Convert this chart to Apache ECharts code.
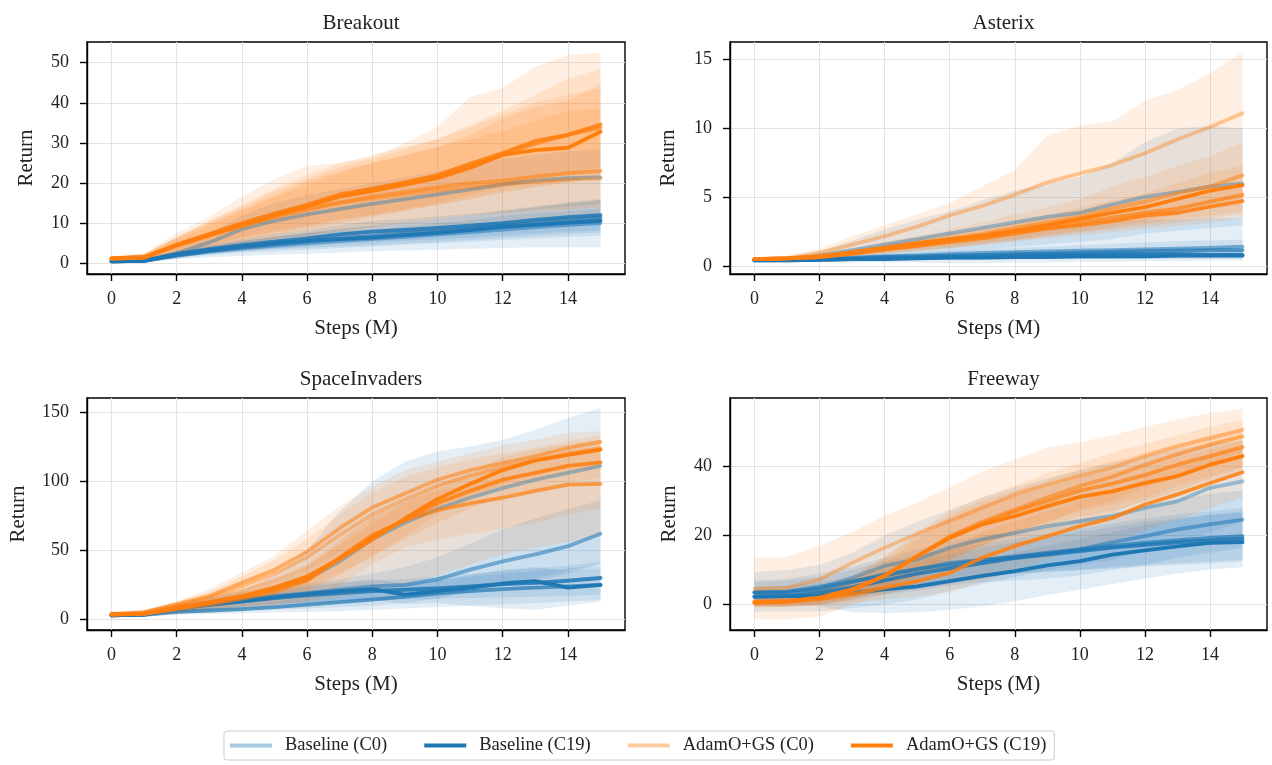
<!DOCTYPE html>
<html>
<head>
<meta charset="utf-8">
<script src="https://cdn.jsdelivr.net/npm/echarts@6/dist/echarts.min.js"></script>
<style>
html,body{margin:0;padding:0;background:#fff;}
#chart{width:1272px;height:765px;}
</style>
</head>
<body>
<div id="chart"></div>
<script>
// ---------------- DATA ----------------
const steps = [0,1,2,3,4,5,6,7,8,9,10,11,12,13,14,15];
const stepTicks = [0,2,4,6,8,10,12,14];
const gameTitles = ['Breakout','Asterix','SpaceInvaders','Freeway'];
const legendNames = ['Baseline (C0)','Baseline (C19)','AdamO+GS (C0)','AdamO+GS (C19)'];
const breakoutYTicks = [0,10,20,30,40,50];
const asterixYTicks = [0,5,10,15];
const spaceInvadersYTicks = [0,50,100,150];
const freewayYTicks = [0,20,40];

// each array: one row per setting, from C0 (lightest) to C19 (darkest)
const breakoutBaseMean = [
 [0.7,0.8,2.5,5.2,8.5,10.6,12.2,13.5,14.8,16.0,17.2,18.4,19.7,20.6,21.2,21.4],
 [0.5,0.6,1.9,2.9,3.7,4.4,5.0,5.6,6.1,6.6,7.2,7.8,8.4,9.0,9.6,10.0],
 [0.5,0.6,2.0,3.1,4.0,4.8,5.5,6.2,6.8,7.4,8.0,8.7,9.4,10.0,10.8,11.4],
 [0.5,0.6,2.3,3.5,4.5,5.4,6.2,7.2,7.9,8.3,8.8,9.4,10.0,10.8,11.5,12.0],
 [0.5,0.6,2.2,3.3,4.2,5.0,5.6,6.0,6.4,7.0,7.6,8.3,9.1,9.6,10.1,10.6]
];
const breakoutBaseLo = [
 [0.3,0.4,1.2,2.5,4.5,6.0,7.0,8.0,9.0,10.0,11.0,12.0,12.8,13.5,14.2,14.8],
 [0.3,0.4,1.0,1.5,1.8,2.1,2.4,2.7,3.0,3.2,3.4,3.6,3.8,4.0,4.0,4.0],
 [0.3,0.4,1.2,2.0,2.6,3.0,3.4,3.8,4.2,4.6,5.0,5.4,5.8,6.2,6.6,6.9],
 [0.3,0.4,1.6,2.4,3.0,3.6,4.2,4.8,5.2,5.6,6.0,6.4,6.9,7.4,7.9,8.2],
 [0.3,0.4,1.5,2.3,3.0,3.5,3.9,4.2,4.5,4.9,5.3,5.8,6.3,6.8,7.3,7.6]
];
const breakoutBaseHi = [
 [1.2,1.4,3.8,7.5,12.0,15.0,17.0,18.5,20.0,21.5,23.0,24.5,26.0,27.0,28.0,28.5],
 [0.8,0.9,2.9,4.3,5.6,6.7,7.6,8.5,9.2,10.0,11.0,12.0,13.0,14.0,15.2,16.0],
 [0.8,0.9,2.9,4.3,5.5,6.6,7.6,8.6,9.4,10.2,11.0,12.0,13.0,13.8,14.8,15.8],
 [0.8,0.9,3.1,4.6,6.0,7.3,8.3,9.5,10.6,11.0,11.7,12.4,13.2,14.2,15.0,15.8],
 [0.8,0.9,3.0,4.3,5.5,6.5,7.4,8.0,8.5,9.2,10.0,10.8,11.8,12.5,13.0,13.6]
];
const breakoutAdamMean = [
 [1.1,1.4,4.3,6.8,9.2,11.5,13.4,15.0,16.2,17.2,18.2,19.0,19.7,20.3,20.8,21.2],
 [1.1,1.4,4.4,7.0,9.4,11.6,13.5,15.2,16.6,17.8,19.0,20.0,20.6,21.6,22.5,23.0],
 [1.2,1.5,4.6,7.2,9.8,12.2,14.5,16.8,18.4,20.0,21.8,24.2,27.2,29.8,32.0,33.8],
 [1.2,1.5,4.6,7.3,10.0,12.4,14.6,17.2,18.6,20.2,22.0,24.8,27.5,30.5,32.0,34.6],
 [1.2,1.5,4.5,7.0,9.5,11.9,14.2,16.6,18.0,19.6,21.2,23.8,27.0,28.2,28.8,32.8]
];
const breakoutAdamLo = [
 [0.5,0.6,1.5,2.5,3.8,5.0,6.0,6.5,7.0,7.5,8.0,8.5,9.0,9.5,10.0,10.5],
 [0.6,0.7,1.8,3.0,4.5,6.0,7.0,8.0,9.0,10.0,11.0,12.0,12.5,13.0,13.5,14.0],
 [0.7,0.8,2.5,4.0,5.5,7.0,8.5,10.0,11.5,13.0,14.5,16.0,17.5,19.0,20.5,22.0],
 [0.8,0.9,2.8,4.5,6.5,8.0,9.5,11.0,12.0,13.5,15.0,17.0,19.0,21.0,22.0,24.0],
 [0.8,0.9,2.8,4.5,6.2,7.7,9.0,10.8,12.0,13.2,14.5,16.0,18.0,19.0,20.0,22.0]
];
const breakoutAdamHi = [
 [1.8,2.5,7.5,11.6,16.6,21.0,24.3,25.0,26.5,30.0,34.0,41.5,43.7,49.0,52.0,52.5],
 [1.6,2.2,6.5,10.0,13.5,17.0,20.5,23.0,25.0,27.0,29.0,31.0,33.0,35.5,38.0,38.5],
 [1.6,2.2,6.5,10.5,14.0,18.0,21.0,24.0,26.0,28.5,31.0,34.0,37.0,40.0,42.0,43.5],
 [1.7,2.3,6.5,10.5,14.5,18.5,22.0,25.0,27.0,29.0,31.0,34.5,38.0,42.0,46.0,48.5],
 [1.7,2.2,6.0,9.5,13.0,16.5,19.5,22.5,25.0,27.0,29.0,32.0,36.0,39.0,40.5,45.0]
];

const asterixBaseMean = [
 [0.5,0.55,0.8,1.2,1.6,2.0,2.4,2.8,3.2,3.6,3.9,4.5,5.05,5.4,5.8,6.0],
 [0.5,0.5,0.55,0.65,0.75,0.8,0.9,1.0,1.05,1.1,1.15,1.2,1.25,1.3,1.35,1.45],
 [0.5,0.5,0.55,0.6,0.7,0.75,0.8,0.85,0.9,0.95,1.0,1.05,1.1,1.15,1.2,1.2],
 [0.45,0.45,0.5,0.55,0.6,0.65,0.7,0.75,0.8,0.85,0.85,0.9,0.9,0.9,0.85,0.85],
 [0.45,0.45,0.5,0.55,0.55,0.6,0.65,0.65,0.7,0.7,0.75,0.75,0.75,0.8,0.8,0.8]
];
const asterixBaseLo = [
 [0.4,0.45,0.5,0.55,0.6,0.8,1.0,1.2,1.4,1.6,1.8,2.0,2.4,2.6,2.8,3.0],
 [0.4,0.4,0.35,0.3,0.3,0.3,0.25,0.25,0.3,0.3,0.35,0.35,0.4,0.4,0.45,0.45],
 [0.4,0.4,0.45,0.45,0.5,0.5,0.5,0.55,0.55,0.6,0.6,0.6,0.65,0.65,0.7,0.7],
 [0.4,0.4,0.4,0.45,0.45,0.5,0.5,0.5,0.55,0.55,0.55,0.6,0.6,0.6,0.6,0.6],
 [0.4,0.4,0.45,0.45,0.45,0.5,0.5,0.5,0.55,0.55,0.55,0.55,0.55,0.6,0.6,0.6]
];
const asterixBaseHi = [
 [0.6,0.7,1.1,1.9,2.7,3.4,4.0,4.8,5.5,6.0,6.5,7.5,9.0,10.0,10.2,10.0],
 [0.6,0.6,0.8,1.0,1.2,1.5,1.7,2.0,2.4,2.8,3.1,3.3,3.4,3.4,3.5,3.5],
 [0.6,0.6,0.7,0.8,0.95,1.05,1.15,1.25,1.35,1.45,1.55,1.65,1.75,1.85,1.9,1.95],
 [0.5,0.5,0.6,0.7,0.8,0.85,0.95,1.0,1.1,1.15,1.2,1.25,1.3,1.3,1.25,1.25],
 [0.5,0.5,0.6,0.65,0.7,0.75,0.8,0.85,0.9,0.95,1.0,1.0,1.05,1.1,1.1,1.1]
];
const asterixAdamMean = [
 [0.55,0.6,1.0,1.6,2.2,2.9,3.7,4.4,5.2,6.1,6.75,7.35,8.2,9.2,10.1,11.1],
 [0.55,0.6,0.7,1.0,1.3,1.6,1.95,2.35,2.8,3.2,3.6,4.2,4.7,5.3,5.8,6.6],
 [0.55,0.6,0.7,0.95,1.25,1.55,1.85,2.15,2.5,2.85,3.2,3.55,3.9,4.2,4.7,5.2],
 [0.55,0.6,0.7,0.95,1.25,1.5,1.8,2.05,2.4,2.75,3.0,3.3,3.7,3.9,4.35,4.75],
 [0.55,0.6,0.75,1.05,1.35,1.7,2.0,2.25,2.6,3.0,3.45,3.9,4.3,4.9,5.5,5.9]
];
const asterixAdamLo = [
 [0.45,0.45,0.6,0.8,1.1,1.5,2.0,2.5,3.0,3.4,3.8,4.2,4.8,5.4,6.0,6.6],
 [0.5,0.5,0.55,0.75,0.95,1.1,1.3,1.6,1.9,2.2,2.5,2.8,3.1,3.4,3.7,4.0],
 [0.5,0.5,0.55,0.75,0.95,1.2,1.4,1.65,1.9,2.2,2.45,2.7,2.95,3.2,3.5,3.8],
 [0.5,0.5,0.55,0.75,0.95,1.15,1.35,1.55,1.8,2.05,2.25,2.5,2.75,2.95,3.2,3.5],
 [0.5,0.5,0.6,0.85,1.05,1.3,1.55,1.75,2.0,2.3,2.65,3.0,3.3,3.75,4.2,4.5]
];
const asterixAdamHi = [
 [0.7,0.8,1.3,2.2,3.0,3.8,4.6,5.8,7.0,9.5,10.2,10.5,12.0,12.8,14.0,15.5],
 [0.6,0.7,0.9,1.3,1.8,2.2,2.7,3.2,3.8,4.3,4.9,5.8,6.5,7.3,8.0,9.0],
 [0.6,0.7,0.85,1.15,1.55,1.9,2.3,2.65,3.1,3.5,3.95,4.4,4.85,5.2,5.9,6.5],
 [0.6,0.7,0.85,1.15,1.55,1.85,2.25,2.55,3.0,3.45,3.75,4.1,4.65,4.85,5.5,6.0],
 [0.6,0.7,0.9,1.25,1.65,2.1,2.45,2.75,3.2,3.7,4.25,4.8,5.3,6.05,6.8,7.3]
];

const spaceInvadersBaseMean = [
 [3,4,8,12,16.5,22,29,42,58,70,80,88,95,101,106,111],
 [3,4,8.4,11.5,14.4,17,19,21.5,24,25,29,36,42,47,53,62],
 [3,3.3,5.5,6.5,7.5,9,10.8,12.5,14.4,16.5,18.8,20.5,22,23,24,25],
 [3,3.5,7.8,10.5,13,15.5,17.5,19,20.5,21.5,22.5,24,25.5,26.5,28,30],
 [3,3.5,8,10.8,13.5,16,18.5,20.5,22,18,20.5,23,26,27.7,23,25]
];
const spaceInvadersBaseLo = [
 [2,2.5,4,5,6,7,8,9,10,12,15,20,25,30,35,40],
 [2,2.5,5,7,9,11,12,13,14,15,17,20,24,28,33,40],
 [2,2.2,3.5,4,4.5,5,5.5,6,7,8,9,10,11,12,13,14],
 [2,2.5,5,7,9,10.5,12,13,14,14.5,15,15.5,16,16.5,17,18],
 [2,2.5,5.5,7.5,9.5,11,12.5,13.5,14.5,11,12,10,8,7,10,13]
];
const spaceInvadersBaseHi = [
 [4,5.5,10,15,21,32,50,78,100,114,121.6,125,130,137,145.6,152.9],
 [4,5.5,11,16,20,23,26,29,33,38,45,55,65,73,80,86],
 [4,4.5,7.5,9,10.5,13,16,19,22,25,28,31,33,35,37,39],
 [4,4.5,10.5,14,17,20.5,23.5,26,28,29.5,31,33,35,37,39,42],
 [4,4.5,10.5,14,17.5,21,24.5,27,29,26,28,32,36,38,35,37]
];
const spaceInvadersAdamMean = [
 [3.6,5,10.5,16,24,33,45,61,76,87,97,104,110,115,120,124],
 [3.6,5.3,11,17,26.5,36,49,66,81,91,101,108,113,118,124,128.3],
 [3.5,4,7.5,11,15,20,28,45,61,72,79,84,88,93,97.5,98],
 [3.5,4,8,12,16.5,22,29,44,60,72,84,93,101,106,111,113.6],
 [4,4.3,8.4,12.5,17,23,31,44,58,73,87,98,108,115,119,122.8]
];
const spaceInvadersAdamLo = [
 [2,2.5,5,7,9,11,13,16,20,25,32,40,47,52,56,60],
 [2.5,3.5,8,12,19,27,36,48,60,72,82,90,96,101,106,110],
 [2,2.5,4,6,8,10,13,24,40,52,58,62,66,70,76,80],
 [2,2.5,5,8,11,15,20,32,46,58,70,80,88,94,99,102],
 [3,3.3,6,9,12,17,23,34,45,60,76,88,98,106,110,114]
];
const spaceInvadersAdamHi = [
 [6,7,13,22,34,46,64,82,96,108,114,120,126,130,135,136],
 [5,6.5,13,20,31,43,58,76,92,103,110,116,120,124,129,133],
 [5,6,11,16,22,30,40,58,75,86,93,98,103,107,112,114],
 [5,6,11,16,22,29,38,56,74,86,97,105,112,117,122,125],
 [5,5.5,11,16,22,29,39,54,70,84,97,107,117,123,127,130]
];

const freewayBaseMean = [
 [3.7,3.7,4.9,7.8,11.2,13.1,16.5,18.9,20.8,22.7,24.2,25.6,28,29.9,33.8,35.7],
 [3.5,3.8,5.2,6.8,8.3,10.2,12.1,13,13.6,14.8,16,18,19.8,21.8,23.2,24.6],
 [3.5,3.6,4.5,6.5,8.8,10.3,11.6,12.8,14,15,16,17,17.9,18.6,19.3,19.8],
 [2.3,2.5,3.5,5,7,9,10.5,12,13.5,14.5,15.5,16.5,17.3,18,18.5,19],
 [2.3,2.5,2.5,3.4,4.4,5.3,6.8,8.3,9.7,11.4,12.6,14.5,15.7,16.9,17.9,18.1]
];
const freewayBaseLo = [
 [-2,-2,-2,-1,0,1.5,4,6,8,10,11.5,13,15.5,18,21,24],
 [0,0,1,2.5,3,4,5.5,6.5,7,7.5,8.5,10,11.5,13.5,15,16.5],
 [0.5,0.5,1,3,5,6,7,8,9,9.5,10,11,11.5,12,12.5,13],
 [-0.5,-0.5,0,1.5,3,4.5,6,7.5,9,9.5,10,10.5,11,11.5,12,12.5],
 [0.5,0.7,-0.5,-2.2,-2.5,-2.2,-1.5,-0.5,1,2.8,4.3,6,7.5,9,10.2,10.8]
];
const freewayBaseHi = [
 [9.5,10,11.5,15,20,24,27.5,31,34,36.5,39,41,43,45,46.5,47.5],
 [7,7.5,9,11,13.5,16,18.5,20,21,22.5,24.5,26.5,28.5,30.5,32,33],
 [6.5,7,8,10,12.5,14.5,16,17.5,19,20.5,22,23.5,25,26,27,28],
 [5,5.5,6.5,8,10,12.5,14.5,16.5,18,19.5,21,22.5,24,25,26,27],
 [4,4.2,4.5,6,7.5,9,11,13,15,17,19,21,23,24.5,26,26.5]
];
const freewayAdamMean = [
 [4.6,4.9,7.3,12.1,16.5,20.5,24.2,28,31.9,34.7,37.3,39.6,43,45.8,48.2,50.6],
 [0.6,0.8,1.8,4,8.5,14,19.8,24,27.5,31,34.3,37,40.5,43.5,46.3,48.7],
 [0.6,0.8,1.8,4,8.4,14,19.5,23.5,27,30,33,35,37.5,40.5,43,45.6],
 [0.6,1,1.7,3,4.9,6.8,9.2,13.6,17,19.8,22.7,25.1,29,31.9,35.2,38.3],
 [0.8,1,2,4.4,8.3,14,19.3,23.2,25.6,28.5,31.2,32.8,35.2,37.2,40.5,43]
];
const freewayAdamLo = [
 [-4.2,-4.3,-3.5,0,3,6,9,12.5,16,19.5,23,26.5,30,33,36.5,39.5],
 [-0.5,-0.5,0,1.5,4,8,13,17,21,24,27.5,30,34,37,41,44],
 [-0.5,-0.5,0,1.5,4,8,13,17,21,24,27,29,31,34.5,37,40],
 [-0.8,-0.5,0,0.5,1.5,2.5,3.5,6.5,10,13,16,18,21.5,24.5,28,31],
 [-0.5,-0.5,0,2,5,9,14,17.5,20,23,25.5,27,30,32,36,38.5]
];
const freewayAdamHi = [
 [13.5,13.8,17,21,25.8,29.5,34,38.5,42,45.5,47,49,51.5,53.5,55.5,56.7],
 [2,2.3,4,8,14,21,27,31,34.5,38,41,44,46.5,49,51.5,53.5],
 [2,2.3,4,8,13.5,20,26,30,33,36,39,41.5,44,46.5,49,51],
 [2,2.3,3.5,6,9,12,16,21,24,27,30,33,36.5,39.5,42.5,45.5],
 [2.5,2.8,4,7,12,19,25,29,31.5,34,37,38.5,40.5,42.5,45,47.5]
];

// ---------------- BUILD ----------------
const FONT = '"Liberation Serif", "Times New Roman", serif';
const BLUE = '#1f77b4', ORANGE = '#ff7f0e';
const BLUE_BAND = 'rgba(31,119,180,0.12)', ORANGE_BAND = 'rgba(255,127,14,0.12)';
const ALPHAS = [0.4, 0.55, 0.7, 0.85, 1.0];

const panels = [
  {grid:{left:87, top:42, width:538, height:232}, yMin:-2.67, yMax:55.16, yTicks:breakoutYTicks, yGap:50,
   base:[breakoutBaseMean, breakoutBaseLo, breakoutBaseHi], adam:[breakoutAdamMean, breakoutAdamLo, breakoutAdamHi]},
  {grid:{left:730, top:42, width:537, height:232}, yMin:-0.53, yMax:16.25, yTicks:asterixYTicks, yGap:51,
   base:[asterixBaseMean, asterixBaseLo, asterixBaseHi], adam:[asterixAdamMean, asterixAdamLo, asterixAdamHi]},
  {grid:{left:87, top:398, width:538, height:232}, yMin:-7.6, yMax:160.1, yTicks:spaceInvadersYTicks, yGap:58,
   base:[spaceInvadersBaseMean, spaceInvadersBaseLo, spaceInvadersBaseHi], adam:[spaceInvadersAdamMean, spaceInvadersAdamLo, spaceInvadersAdamHi]},
  {grid:{left:730, top:398, width:537, height:232}, yMin:-7.33, yMax:59.8, yTicks:freewayYTicks, yGap:50,
   base:[freewayBaseMean, freewayBaseLo, freewayBaseHi], adam:[freewayAdamMean, freewayAdamLo, freewayAdamHi]}
];

const grid = [], xAxis = [], yAxis = [], title = [], series = [];
const axisCommon = {
  axisLine:{show:true, onZero:false, lineStyle:{color:'#000', width:1.4}},
  axisTick:{show:true, length:7, lineStyle:{color:'#000', width:1.4}},
  splitLine:{show:true, lineStyle:{color:'#e4e4e4', width:1}},
  nameTextStyle:{fontFamily:FONT, fontSize:21, color:'#222'}
};

panels.forEach((p, i) => {
  grid.push(Object.assign({show:true, borderColor:'#000', borderWidth:1.4, containLabel:false}, p.grid));
  title.push({
    text: gameTitles[i], left: p.grid.left + p.grid.width/2, top: p.grid.top - 34, textAlign:'center',
    textStyle:{fontFamily:FONT, fontSize:21, fontWeight:'normal', color:'#222'}
  });
  xAxis.push(Object.assign({}, axisCommon, {
    type:'value', gridIndex:i, min:-0.75, max:15.75,
    name:'Steps (M)', nameLocation:'middle', nameGap:44,
    axisTick:Object.assign({}, axisCommon.axisTick, {customValues:stepTicks}),
    axisLabel:{customValues:stepTicks, fontFamily:FONT, fontSize:18, color:'#222', margin:16},
  }));
  yAxis.push(Object.assign({}, axisCommon, {
    type:'value', gridIndex:i, min:p.yMin, max:p.yMax,
    name:'Return', nameLocation:'middle', nameGap:p.yGap, nameRotate:90,
    axisTick:Object.assign({}, axisCommon.axisTick, {customValues:p.yTicks}),
    axisLabel:{customValues:p.yTicks, fontFamily:FONT, fontSize:18, color:'#222', margin:18},
  }));

  const addBand = (lo, hi, fill) => {
    series.push({
      type:'custom', xAxisIndex:i, yAxisIndex:i, silent:true, z:1,
      data: steps.map((t, j) => [t, lo[j], hi[j]]),
      encode:{x:0, y:[1,2]},
      renderItem: (params, api) => {
        if (params.dataIndex !== 0) return null;
        const pts = [];
        for (let j = 0; j < steps.length; j++) pts.push(api.coord([steps[j], hi[j]]));
        for (let j = steps.length - 1; j >= 0; j--) pts.push(api.coord([steps[j], lo[j]]));
        return {type:'polygon', shape:{points:pts}, style:{fill:fill}};
      }
    });
  };
  const addLine = (mean, color, alpha, z) => {
    series.push({
      type:'line', xAxisIndex:i, yAxisIndex:i, silent:true, z:z,
      symbol:'none', showSymbol:false,
      data: steps.map((t, j) => [t, mean[j]]),
      lineStyle:{color:color, width:3.8, opacity:alpha, join:'round', cap:'round'},
      itemStyle:{color:color}
    });
  };
  for (let k = 0; k < 5; k++) addBand(p.base[1][k], p.base[2][k], BLUE_BAND);
  for (let k = 0; k < 5; k++) addBand(p.adam[1][k], p.adam[2][k], ORANGE_BAND);
  for (let k = 0; k < 5; k++) addLine(p.base[0][k], BLUE, ALPHAS[k], 2);
  for (let k = 0; k < 5; k++) addLine(p.adam[0][k], ORANGE, ALPHAS[k], 3);
});

// legend-only series
const legendColors = ['#a5c9e1', BLUE, '#ffcc9f', ORANGE];
legendNames.forEach((n, k) => {
  series.push({type:'line', name:n, xAxisIndex:0, yAxisIndex:0, data:[], symbol:'none',
    lineStyle:{color:legendColors[k], width:3.5}, itemStyle:{color:legendColors[k]}});
});

const chart = echarts.init(document.getElementById('chart'), null, {renderer:'canvas'});
chart.setOption({
  animation:false,
  backgroundColor:'#fff',
  title, grid, xAxis, yAxis, series,
  legend:{
    data:legendNames.map(n => ({name:n, icon:'rect'})), left:224, top:731, orient:'horizontal',
    itemWidth:42, itemHeight:4, itemGap:37,
    padding:[5,8,5,6],
    borderColor:'#cccccc', borderWidth:1, borderRadius:3,
    textStyle:{fontFamily:FONT, fontSize:18.5, color:'#222', padding:[0,0,0,8]},
    selectedMode:false
  }
});
</script>
</body>
</html>
